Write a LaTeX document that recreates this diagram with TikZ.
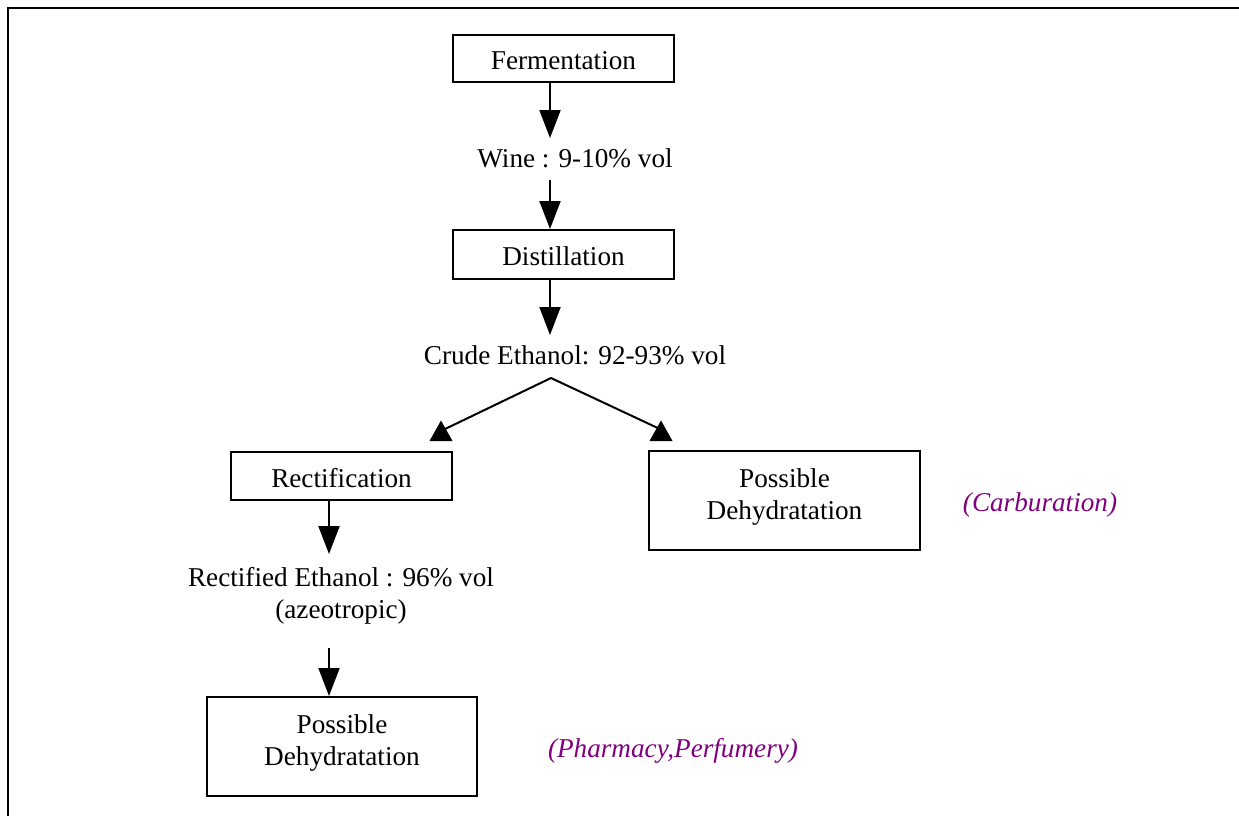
\documentclass[tikz,border=0pt]{standalone}
\usepackage{fontspec}
\setmainfont{Liberation Serif}
\usetikzlibrary{arrows.meta}
\definecolor{purp}{RGB}{128,0,128}
\begin{document}
\begin{tikzpicture}[x=1pt,y=-1pt,
  box/.style={draw,line width=2pt,inner sep=0pt,align=center,text height=22.5pt,text depth=0pt},
  box2/.style={draw,line width=2pt,inner sep=0pt,align=center},
  lbl/.style={inner sep=0pt,align=center},
  arr/.style={line width=2pt,-{Triangle[width=21pt,length=28pt]}},
  ln/.style={line width=2pt},
  tri/.style={fill=black},
  note/.style={text=purp,font=\fontsize{27.2}{32}\selectfont\itshape,inner sep=0pt},
  font=\fontsize{27.2}{32}\selectfont]
\useasboundingbox (0,0) rectangle (1239,816);
\fill[white] (0,0) rectangle (1239,816);
\draw[ln] (8,817) -- (8,8) -- (1240,8);

\node[box,minimum width=221pt,minimum height=47pt] (ferm) at (563.5,58.5) {Fermentation};
\node[lbl] (wine) at (575,158) {Wine : 9-10\% vol};
\node[box,minimum width=221pt,minimum height=49pt] (dist) at (563.5,254.5) {Distillation};
\node[lbl] (crude) at (575,355) {Crude Ethanol: 92-93\% vol};
\node[box,minimum width=221pt,minimum height=48pt] (rect) at (341.5,476) {Rectification};
\node[box2,minimum width=271pt,minimum height=99pt] (dehR) at (784.5,500.5) {Possible\\Dehydratation\rule[-12pt]{0pt}{12pt}};
\node[note] (carb) at (1040,505) {(Carburation)};
\node[lbl] (recte) at (341,596) {Rectified Ethanol : 96\% vol\\(azeotropic)};
\node[box2,minimum width=270pt,minimum height=99pt] (dehL) at (342,746.5) {Possible\\Dehydratation\rule[-12pt]{0pt}{12pt}};
\node[note] (pharm) at (673,751) {(Pharmacy,Perfumery)};

\coordinate (w1) at (550,138);
\coordinate (c1) at (550,335);
\coordinate (r1) at (329,554);
\coordinate (lt) at (443,430);
\coordinate (rt) at (662,430);
\coordinate (top) at (551,378);
\coordinate (p0) at (329,648);
\coordinate (d0) at (550,180);

\draw[arr] (ferm.south -| w1) -- (w1);
\draw[arr] (d0) -- (dist.north -| d0);
\draw[arr] (dist.south -| c1) -- (c1);
\draw[arr] (rect.south -| r1) -- (r1);
\draw[arr] (p0) -- (dehL.north -| p0);

\draw[ln] (top) -- (lt);
\draw[ln] (top) -- (rt);
\fill[tri] (441,420.5) -- (429.5,441) -- (452.5,441) -- cycle;
\fill[tri] (661,420.5) -- (649.5,441) -- (672.5,441) -- cycle;
\end{tikzpicture}
\end{document}
